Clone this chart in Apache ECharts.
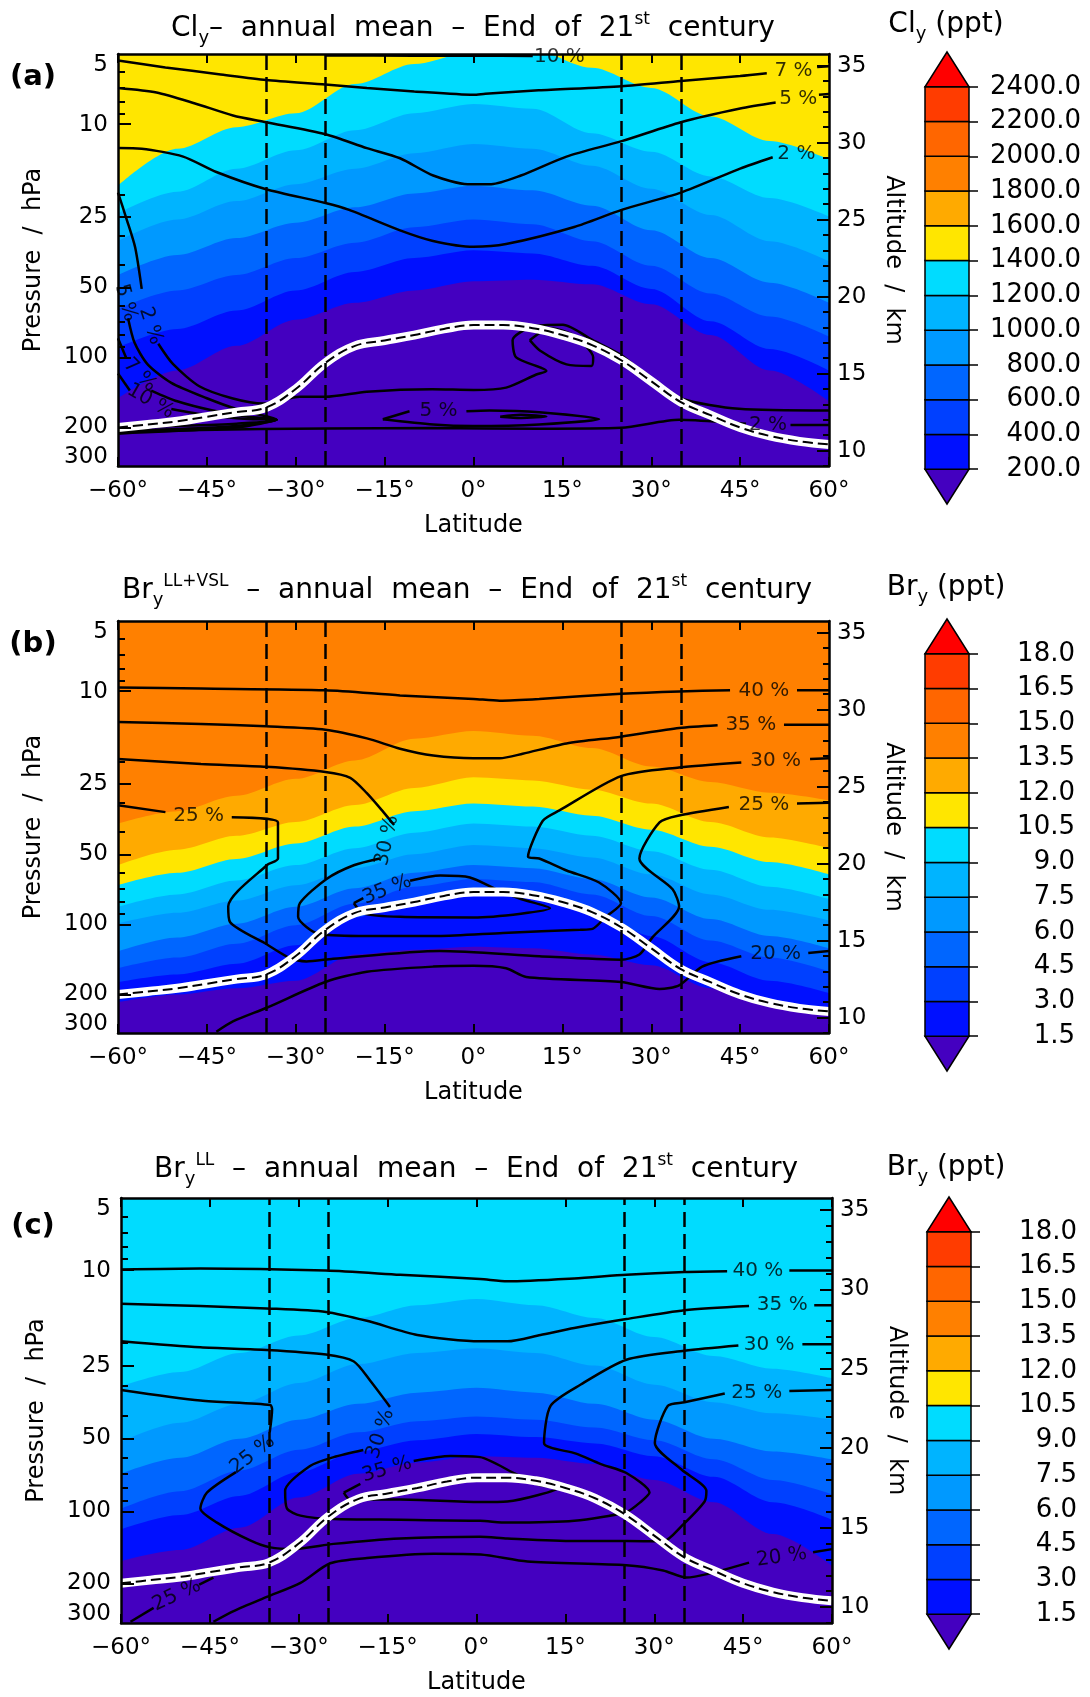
<!DOCTYPE html>
<html>
<head>
<meta charset="utf-8">
<title>Cly and Bry annual mean - End of 21st century</title>
<script src="https://cdn.jsdelivr.net/npm/echarts@6.0.0/dist/echarts.min.js"></script>
<style>
  html, body { margin: 0; padding: 0; background: #fff; }
  #chart { width: 1090px; height: 1697px; }
</style>
</head>
<body>
<div id="chart"></div>
<script>
// ---- data ----------------------------------------------------------------
// latitudes at which the filled-contour boundaries were read (deg)
const boundaryLat = [-60, -50, -40, -30, -20, -10, 0, 10, 20, 30, 40, 50, 60]

// (a) Cly, altitude (km) of each contour level
const clyLevels = [200, 400, 600, 800, 1000, 1200, 1400, 1600, 1800, 2000, 2200, 2400]
const cly200 = [13.4, 15.2, 16.8, 18.5, 19.6, 20.4, 21.0, 21.1, 20.8, 19.5, 17.5, 15.2, 13.2]
const cly400 = [16.7, 17.9, 19.1, 20.4, 21.6, 22.5, 23.0, 22.8, 22.0, 20.5, 18.4, 16.6, 15.2]
const cly600 = [19.2, 20.4, 21.4, 22.5, 23.5, 24.5, 25.0, 24.7, 23.6, 22.0, 20.2, 18.7, 17.4]
const cly800 = [21.4, 22.7, 23.8, 24.8, 25.8, 26.7, 27.2, 26.9, 25.9, 24.3, 22.5, 20.9, 19.6]
const cly1000 = [23.6, 25.0, 26.2, 27.3, 28.3, 29.3, 29.9, 29.6, 28.5, 27.0, 25.3, 23.6, 22.3]
const cly1200 = [25.4, 26.8, 28.3, 29.5, 30.8, 31.9, 32.5, 32.2, 30.6, 29.4, 27.8, 26.4, 25.2]
const cly1400 = [27.2, 29.6, 31.0, 31.9, 33.8, 35.1, 35.9, 36.0, 34.85, 33.55, 31.7, 30.1, 28.9]

// (b) Bry LL+VSL
const bryLevels = [1.5, 3.0, 4.5, 6.0, 7.5, 9.0, 10.5, 12.0, 13.5, 15.0, 16.5, 18.0]
const bryVsl1p5 = [11.0, 11.5, 11.9, 12.4, 14.1, 14.4, 14.6, 14.5, 14.1, 13.4, 11.9, 11.0, 10.6]
const bryVsl3 = [12.3, 12.8, 13.5, 14.7, 16.5, 17.7, 18.1, 17.9, 17.0, 15.3, 13.6, 12.4, 11.6]
const bryVsl4p5 = [13.2, 13.9, 14.8, 16.0, 17.4, 18.5, 19.0, 18.8, 18.0, 16.6, 15.0, 13.9, 13.0]
const bryVsl6 = [14.3, 15.2, 16.1, 17.2, 18.4, 19.4, 19.9, 19.7, 19.0, 17.8, 16.4, 15.3, 14.5]
const bryVsl7p5 = [16.1, 16.8, 17.6, 18.6, 19.7, 20.6, 21.2, 21.0, 20.4, 19.3, 18.0, 17.0, 16.3]
const bryVsl9 = [17.2, 18.0, 18.9, 19.9, 21.0, 22.0, 22.6, 22.4, 21.8, 20.8, 19.6, 18.5, 17.7]
const bryVsl10p5 = [18.6, 19.4, 20.3, 21.3, 22.4, 23.4, 23.9, 23.7, 23.1, 22.2, 21.1, 20.1, 19.3]
const bryVsl12 = [19.9, 20.9, 21.8, 22.7, 23.8, 24.9, 25.6, 25.4, 24.8, 23.9, 22.7, 21.7, 21.0]
const bryVsl13p5 = [22.6, 23.4, 24.4, 25.5, 26.7, 28.1, 28.6, 28.3, 27.5, 26.3, 25.3, 24.6, 24.1]

// (c) Bry LL
const bryLl1p5 = [12.9, 13.6, 15.0, 16.9, 18.4, 19.1, 19.5, 19.4, 19.0, 18.0, 16.6, 14.6, 12.6]
const bryLl3 = [14.9, 15.8, 17.0, 18.5, 19.8, 20.5, 20.9, 20.7, 20.3, 19.5, 18.2, 16.6, 15.5]
const bryLl4p5 = [16.2, 17.3, 18.6, 19.9, 21.0, 21.7, 22.0, 21.8, 21.3, 20.5, 19.3, 18.0, 17.1]
const bryLl6 = [18.4, 19.4, 20.6, 21.8, 22.8, 23.5, 23.8, 23.5, 22.8, 21.8, 20.6, 19.8, 19.3]
const bryLl7p5 = [20.4, 21.6, 22.8, 24.1, 25.3, 26.0, 26.3, 26.0, 25.2, 24.0, 22.9, 22.2, 21.8]
const bryLl9 = [23.9, 24.8, 26.0, 27.1, 28.2, 29.0, 29.4, 29.0, 28.2, 27.0, 25.8, 25.0, 24.4]

// tropopause (km)
const tropLat = [-60, -55, -50, -45, -40, -35, -30, -25, -20, -15, -10, -5, 0, 5, 10, 15, 20, 25, 30, 35, 40, 45, 50, 55, 60]
const tropAlt = [11.5, 11.7, 11.9, 12.2, 12.5, 12.8, 14.0, 15.7, 16.8, 17.15, 17.5, 17.9, 18.15, 18.15, 17.95, 17.5, 16.85, 15.85, 14.5, 13.15, 12.3, 11.5, 10.95, 10.6, 10.4]

// tropics / subtropics limits (dashed verticals)
const regionLat = [-35, -25, 25, 35]

// contour lines of the percentage: each is a list of [lat, km] segments
const clyC10 = [[[-25, 35.66], [-10, 35.64], [0, 35.64], [10, 35.62]]]
const clyC7 = [[[-60, 35.33], [-52, 34.88], [-43, 34.44], [-35, 34.06], [-25, 33.77], [-18, 33.54], [-10, 33.32], [0, 33.1], [2, 33.17], [11, 33.39], [25, 33.66], [35, 34.0], [45, 34.32], [49.5, 34.5]], [[58, 34.9], [60, 34.95]]]
const clyC5 = [[[-60, 33.54], [-53.5, 33.25], [-47, 32.54], [-40.6, 31.76], [-35, 31.32], [-25, 30.54], [-18, 29.64], [-12.4, 28.98], [-6.8, 27.86], [-1, 27.3], [3, 27.3], [8, 27.86], [15.7, 29.09], [25, 30.09], [35, 31.32], [45, 32.21], [51, 32.6]], [[58.3, 33.1], [60, 33.15]]]
const clyC2 = [[[-60, 29.64], [-56, 29.6], [-49, 29.09], [-43.4, 28.09], [-35, 26.97], [-25, 26.08], [-21, 25.63], [-12.4, 24.3], [-7, 23.63], [0, 23.23], [5.5, 23.41], [17, 24.52], [25, 25.63], [35, 26.75], [45, 28.31], [50.5, 29.05]]]
const clyC2Low = [[[-60, 26.75], [-58.5, 24.97], [-57.1, 23.18], [-56, 20.5]], [[-53.2, 16.94], [-50.7, 15.61], [-46.2, 14.16], [-40.6, 13.38], [-35.5, 13.05], [-29.3, 13.49], [-25, 13.49], [-18, 13.82], [-7, 13.98], [0, 13.94], [5.5, 14.09], [10.6, 14.94], [12.3, 15.16], [7.2, 16.05], [6.6, 17.17], [10, 18.06], [15.1, 18.17], [20.1, 17.17], [24.9, 16.2], [29.7, 14.72], [35, 13.38], [44.8, 12.71], [60, 12.6]]]
const clyW5 = [[[-58.3, 18.6], [-57.2, 17.0], [-55, 15.6], [-51, 14.4], [-45, 13.4], [-40, 12.7], [-33.2, 12.0], [-40, 11.75], [-50, 11.6], [-60, 11.5]]]
const clyW7 = [[[-60, 17.3], [-58.6, 16.0]], [[-54.4, 13.9], [-50, 13.2], [-44, 12.6], [-38, 12.2], [-33.2, 12.0], [-40, 11.6], [-50, 11.4], [-60, 11.3]]]
const clyW10 = [[[-60, 15.0], [-58, 13.9]], [[-51, 12.7], [-45, 12.3], [-38, 12.05], [-33.2, 12.0], [-40, 11.5], [-50, 11.3], [-60, 11.2]]]
const clyW5Mid = [[[-15.3, 12.04], [-10.8, 12.55]], [[-1.2, 12.55], [2.7, 12.6], [11.1, 12.49], [21.2, 12.04], [11.1, 11.7], [-0.1, 11.6], [-6.8, 11.7], [-15.3, 12.04]]]
const clyLoopLow = [[[4.5, 12.2], [8, 12.32], [12.3, 12.22], [8, 12.12], [4.5, 12.2]]]
const clyLoopTrop = [[[9.5, 17.17], [12.9, 17.95], [16.8, 17.5], [20.2, 16.05], [19.9, 15.5], [15.7, 15.6], [11.2, 16.5], [9.5, 17.17]]]
const clyC2Bottom = [[[-60, 11.1], [-46.2, 11.33], [-25, 11.44], [-6.8, 11.46], [11.1, 11.42], [24.9, 11.48], [34.7, 12.0], [44.8, 11.78], [46, 11.75]], [[53.5, 11.66], [60, 11.66]]]
// [text, lat, km, rotation]
const clyLabels = [
  ['10 %', 14.5, 35.6, 0], ['7 %', 54, 34.68, 0], ['5 %', 54.8, 32.85, 0], ['2 %', 54.5, 29.25, 0],
  ['5 %', -58.7, 19.6, -75], ['2 %', -54.5, 18.1, -72], ['7 %', -56.3, 14.9, -45], ['10 %', -54.5, 13.2, -30],
  ['5 %', -5.9, 12.6, 0], ['2 %', 49.7, 11.7, 0]
]

const bryVslC40 = [[[-60, 31.43], [-46, 31.36], [-25, 31.25], [-12.4, 30.92], [0, 30.69], [4.4, 30.58], [11.1, 30.69], [24.9, 31.03], [34.7, 31.18], [43.3, 31.25]], [[54.6, 31.25], [60, 31.25]]]
const bryVslC35 = [[[-60, 29.2], [-46, 29.07], [-35, 28.91], [-25, 28.69], [-18, 28.13], [-12.4, 27.46], [-6.8, 27.02], [0, 26.84], [4.4, 26.84], [8.3, 27.13], [15.7, 27.8], [24.9, 28.24], [34.7, 28.8], [41.2, 28.98]], [[52.4, 29.02], [60, 29.02]]]
const bryVslC30 = [[[-60, 26.79], [-46, 26.46], [-35, 26.28], [-25, 25.95], [-20.8, 25.57], [-18, 24.57], [-15.2, 23.34], [-13.4, 22.5]], [[-15.8, 20.33], [-20.2, 19.89], [-24.8, 19.0], [-29.3, 17.43], [-29.6, 16.54], [-28.2, 15.88], [-26, 15.43], [-18, 15.3], [-6, 15.3], [5, 15.5], [18, 15.7], [20.1, 15.76], [22.3, 16.54], [24.9, 17.43], [21.2, 18.77], [15.7, 19.55], [11.1, 20.33], [9.2, 20.44], [11.7, 22.78], [14.5, 23.45], [24.9, 25.68], [34.7, 26.24], [45.2, 26.57]], [[56.8, 26.79], [60, 26.84]]]
const bryVslC25 = [[[-60, 23.78], [-52, 23.34]], [[-40.8, 23.0], [-33, 22.67], [-33, 20.33], [-34.9, 19.89], [-41.4, 17.21], [-41.1, 16.21], [-34.9, 14.76], [-31, 13.87], [-28.2, 13.65], [-23.7, 13.82], [-5.7, 14.32], [11.1, 13.98], [24.9, 13.76], [28, 14.09], [30.2, 15.21], [34.7, 17.21], [33.6, 18.33], [28, 20.33], [31.4, 22.67], [34.7, 23.12], [43.1, 23.67]], [[54.6, 23.9], [60, 23.95]]]
const bryVslC20 = [[[-43.4, 9.08], [-40.6, 9.75], [-34.9, 10.64], [-25, 12.31], [-18, 12.98], [-6.8, 13.31], [0, 13.36], [5.5, 13.2], [8.9, 12.64], [24.9, 12.31], [31.4, 11.86], [34.7, 12.09], [38.6, 13.31], [45.2, 13.98]], [[56.5, 14.2], [60, 14.32]]]
const bryVslC35Loop = [[[-20.2, 17.43], [-18.6, 17.75]], [[-10.7, 18.88], [-5.6, 19.22], [-0.6, 19.1], [4, 18.3], [8, 17.7], [12.9, 17.1], [8, 16.75], [0, 16.5], [-12.4, 16.54], [-18.6, 16.77], [-20.2, 17.43]]]
const bryVslLabels = [
  ['40 %', 49, 31.25, 0], ['35 %', 46.8, 29.0, 0], ['30 %', 51, 26.65, 0], ['25 %', 49, 23.8, 0], ['20 %', 51, 14.12, 0],
  ['25 %', -46.4, 23.12, 0], ['30 %', -14.6, 21.5, 78], ['35 %', -14.6, 18.3, 22]
]

const bryLlC40 = [[[-60, 31.25], [-46.6, 31.32], [-25.4, 31.18], [-12.9, 30.92], [0.6, 30.65], [5.2, 30.51], [16.5, 30.69], [25.3, 30.92], [35.1, 31.09], [42.3, 31.14]], [[52.8, 31.18], [60, 31.18]]]
const bryLlC35 = [[[-60, 29.09], [-46.6, 28.95], [-35.4, 28.8], [-25.4, 28.58], [-18.5, 28.02], [-10, 27.13], [0.6, 26.73], [5.2, 26.73], [10.8, 27.13], [16.5, 27.57], [25.3, 28.13], [35.1, 28.69], [46, 28.95]], [[57, 29.0], [60, 29.0]]]
const bryLlC30 = [[[-60, 26.73], [-46.6, 26.35], [-35.4, 26.19], [-25.4, 25.9], [-20.7, 25.46], [-17.9, 24.23], [-14.6, 22.6]], [[-19.1, 19.89], [-24.1, 19.44], [-28.1, 18.88], [-32.3, 17.32], [-32, 16.21], [-29.7, 15.76], [-24.1, 15.54], [-12.9, 15.5], [0.6, 15.43], [5.2, 15.32], [16.5, 15.43], [25.3, 15.99], [27.8, 16.65], [29.2, 17.21], [25.3, 18.44], [21, 19.0], [16.8, 19.66], [11.4, 20.33], [12.5, 22.67], [17.6, 24.01], [25.3, 25.57], [35.1, 26.13], [44.2, 26.46]], [[55, 26.55], [60, 26.55]]]
const bryLlC25 = [[[-60, 23.67], [-46.6, 23.0], [-34.8, 22.72], [-34.5, 22.45], [-34.9, 21.0]], [[-40.6, 18.5], [-45.5, 17.21], [-46.6, 16.21], [-43.8, 15.32], [-38.2, 14.2], [-34.8, 13.76], [-30.9, 13.65], [-24.1, 13.98], [-12.9, 14.32], [0.6, 14.43], [5.2, 14.32], [16.5, 14.16], [25.3, 14.16], [31.5, 14.14], [34.6, 15.1], [38.5, 16.65], [38.8, 17.32], [34.6, 18.66], [30.1, 20.33], [32.3, 22.67], [35.1, 22.89], [41.9, 23.45]], [[52.8, 23.61], [60, 23.67]]]
const bryLlC20 = [[[-44.4, 9.08], [-41, 9.75], [-35.4, 10.64], [-29.7, 11.53], [-24.7, 12.76], [-18.5, 13.09], [-7.2, 13.36], [0.7, 13.31], [8.6, 12.87], [25.3, 12.64], [31.5, 12.31], [35.4, 11.86], [39.1, 12.09], [46, 12.8]], [[56.8, 13.45], [60, 13.65]]]
const bryLlC25Low = [[[-58.4, 9.08], [-54.5, 9.95]], [[-46.8, 11.42], [-44.4, 11.86]]]
const bryLlC35Loop = [[[-22.4, 17.21], [-19.6, 17.75]], [[-10.6, 19.2], [-4.4, 19.51], [0.6, 19.44], [6.3, 18.44], [10.8, 17.66], [14, 17.55], [5.2, 16.65], [0.6, 16.61], [-12.9, 16.77], [-21.3, 16.77], [-22.4, 17.21]]]
const bryLlLabels = [
  ['40 %', 47.5, 31.14, 0], ['35 %', 51.6, 29.0, 0], ['30 %', 49.4, 26.5, 0], ['25 %', 47.3, 23.52, 0], ['20 %', 51.5, 13.15, 8],
  ['30 %', -16.2, 20.9, 72], ['25 %', -37.8, 19.6, 38], ['35 %', -15.1, 18.66, 16], ['25 %', -50.6, 10.75, 25]
]

// axis ticks
const altTickLabels = [10, 15, 20, 25, 30, 35]
const pressureTickLabels = ['5', '10', '25', '50', '100', '200', '300']
const pressureLabelAlt = [35.05, 31.15, 25.19, 20.64, 16.07, 11.5, 9.55]
const pressureMajor = [10, 25, 50, 100, 200]
const pressureMinor = [6, 7, 8, 9, 20, 30, 40, 60, 70, 80, 90]

// ---- styles --------------------------------------------------------------
const FONT = 'DejaVu Sans'
const bandColors = ['#4400c0', '#0010ff', '#0040ff', '#0066ff', '#0099ff', '#00b4ff', '#00dcff',
  '#ffe600', '#ffaa00', '#ff8000', '#ff6600', '#ff3c00', '#ff0000']
const ALT_MIN = 9.0
const ALT_MAX = 35.75

function pressureToAlt(p) {
  return 16.03 + 6.59 * Math.log(100 / p)
}

function fmtLat(v) {
  return (v < 0 ? '\u2212' + (-v) : String(v)) + '°'
}

const titleRich = {
  n: { fontSize: 28, fontFamily: FONT, color: '#000', lineHeight: 36 },
  b: { fontSize: 18, fontFamily: FONT, color: '#000', lineHeight: 18, verticalAlign: 'bottom' },
  p: { fontSize: 17, fontFamily: FONT, color: '#000', lineHeight: 17, verticalAlign: 'top' }
}

const panels = [
  {
    left: 118, top: 54, height: 412, barLeft: 925, barTop: 52, barMargin: 112,
    titleX: 473, titleY: 29, barTitleY: 25, letterY: 77, letter: '(a)',
    title: '{n|Cl}{b|y}{n|–  annual  mean  –  End  of  21}{p|st}{n|  century}',
    barTitle: '{n|Cl}{b|y}{n| (ppt)}',
    levels: clyLevels,
    bounds: [cly200, cly400, cly600, cly800, cly1000, cly1200, cly1400],
    contours: [clyC10, clyC7, clyC5, clyC2, clyC2Low, clyW5, clyW7, clyW10, clyW5Mid, clyLoopLow, clyLoopTrop, clyC2Bottom],
    labels: clyLabels
  },
  {
    left: 118, top: 621, height: 412, barLeft: 925, barTop: 619, barMargin: 106,
    titleX: 467, titleY: 591, barTitleY: 588, letterY: 644, letter: '(b)',
    title: '{n|Br}{b|y}{p|LL+VSL}{n|  –  annual  mean  –  End  of  21}{p|st}{n|  century}',
    barTitle: '{n|Br}{b|y}{n| (ppt)}',
    levels: bryLevels,
    bounds: [bryVsl1p5, bryVsl3, bryVsl4p5, bryVsl6, bryVsl7p5, bryVsl9, bryVsl10p5, bryVsl12, bryVsl13p5],
    contours: [bryVslC40, bryVslC35, bryVslC30, bryVslC25, bryVslC20, bryVslC35Loop],
    labels: bryVslLabels
  },
  {
    left: 121, top: 1198, height: 425, barLeft: 927, barTop: 1197, barMargin: 106,
    titleX: 476, titleY: 1170, barTitleY: 1168, letterY: 1226, letter: '(c)',
    title: '{n|Br}{b|y}{p|LL}{n|  –  annual  mean  –  End  of  21}{p|st}{n|  century}',
    barTitle: '{n|Br}{b|y}{n| (ppt)}',
    levels: bryLevels,
    bounds: [bryLl1p5, bryLl3, bryLl4p5, bryLl6, bryLl7p5, bryLl9],
    contours: [bryLlC40, bryLlC35, bryLlC30, bryLlC25, bryLlC20, bryLlC25Low, bryLlC35Loop],
    labels: bryLlLabels
  }
]

// ---- build ---------------------------------------------------------------
const grids = []
const xAxes = []
const yAxes = []
const series = []
const graphics = []

const frameLine = { show: true, onZero: false, lineStyle: { color: '#000', width: 2.5 } }
const tickStyle = { color: '#000', width: 2 }
const nameStyle = { fontSize: 24, color: '#000', fontFamily: FONT }

function renderColorBox(params, api) {
  const lo = api.value(0)
  const hi = api.value(1)
  const kind = api.value(2)
  const a = api.coord([0, lo])
  const b = api.coord([1, hi])
  const style = { fill: bandColors[api.value(3)], stroke: '#000', lineWidth: 1.5 }
  if (kind === 0) {
    return { type: 'rect', shape: { x: a[0], y: b[1], width: b[0] - a[0], height: a[1] - b[1] }, style }
  }
  const mid = (a[0] + b[0]) / 2
  const pts = kind === 1
    ? [[a[0], a[1]], [b[0], a[1]], [mid, b[1]]]
    : [[a[0], b[1]], [b[0], b[1]], [mid, a[1]]]
  return { type: 'polygon', shape: { points: pts }, style }
}

panels.forEach((p, k) => {
  const gPlot = 2 * k
  const gBar = 2 * k + 1
  const xi = 3 * k
  const yi = 5 * k

  grids.push({ left: p.left, top: p.top, width: 711, height: p.height, show: true,
    backgroundColor: bandColors[0], borderWidth: 0, outerBoundsMode: 'none' })
  grids.push({ left: p.barLeft, top: p.barTop, width: 44, height: 452, outerBoundsMode: 'none' })

  // x axes: latitude bottom, ticks only on top, hidden one for the colour bar
  xAxes.push({
    gridIndex: gPlot, type: 'value', min: -60, max: 60, interval: 15, position: 'bottom', z: 10,
    axisLine: frameLine, axisTick: { inside: true, length: 9, lineStyle: tickStyle },
    axisLabel: { fontSize: 23, color: '#000', margin: 14, fontFamily: FONT, formatter: fmtLat },
    splitLine: { show: false },
    name: 'Latitude', nameLocation: 'middle', nameGap: 48, nameTextStyle: nameStyle
  })
  xAxes.push({
    gridIndex: gPlot, type: 'value', min: -60, max: 60, interval: 15, position: 'top', z: 10,
    axisLine: frameLine, axisTick: { inside: true, length: 9, lineStyle: tickStyle },
    axisLabel: { show: false }, splitLine: { show: false }
  })
  xAxes.push({ gridIndex: gBar, type: 'value', min: 0, max: 1, show: false })

  // y axes: altitude (right, used by the series), its minor ticks, pressure (left), its minor ticks, colour bar
  const altMinor = []
  for (let v = 9; v <= 35; v++) if (v % 5 !== 0) altMinor.push(v)
  yAxes.push({
    gridIndex: gPlot, type: 'value', min: ALT_MIN, max: ALT_MAX, position: 'right', z: 10,
    axisLine: frameLine,
    axisTick: { inside: true, length: 12, customValues: altTickLabels, lineStyle: tickStyle },
    axisLabel: { customValues: altTickLabels, fontSize: 23, color: '#000', margin: 8, fontFamily: FONT },
    splitLine: { show: false },
    name: 'Altitude  /  km', nameLocation: 'middle', nameRotate: -90, nameGap: 52, nameTextStyle: nameStyle
  })
  yAxes.push({
    gridIndex: gPlot, type: 'value', min: ALT_MIN, max: ALT_MAX, position: 'right', z: 10,
    axisLine: { show: false, onZero: false },
    axisTick: { inside: true, length: 6, customValues: altMinor, lineStyle: tickStyle },
    axisLabel: { show: false }, splitLine: { show: false }
  })
  yAxes.push({
    gridIndex: gPlot, type: 'value', min: ALT_MIN, max: ALT_MAX, position: 'left', z: 10,
    axisLine: frameLine,
    axisTick: { inside: true, length: 13, customValues: pressureMajor.map(pressureToAlt), lineStyle: tickStyle },
    axisLabel: {
      customValues: pressureLabelAlt, fontSize: 23, color: '#000', margin: 10, fontFamily: FONT,
      formatter: v => {
        let best = 0
        pressureLabelAlt.forEach((a, i) => { if (Math.abs(a - v) < Math.abs(pressureLabelAlt[best] - v)) best = i })
        return pressureTickLabels[best]
      }
    },
    splitLine: { show: false },
    name: 'Pressure  /  hPa', nameLocation: 'middle', nameRotate: 90, nameGap: 72, nameTextStyle: nameStyle
  })
  yAxes.push({
    gridIndex: gPlot, type: 'value', min: ALT_MIN, max: ALT_MAX, position: 'left', z: 10,
    axisLine: { show: false, onZero: false },
    axisTick: { inside: true, length: 7, customValues: pressureMinor.map(pressureToAlt), lineStyle: tickStyle },
    axisLabel: { show: false }, splitLine: { show: false }
  })
  const lv = p.levels
  const step = lv[1] - lv[0]
  yAxes.push({
    gridIndex: gBar, type: 'value', min: lv[0] - step, max: lv[lv.length - 1] + step, position: 'right',
    axisLine: { show: false, onZero: false },
    axisTick: { inside: false, length: 9, customValues: lv, lineStyle: { color: '#000', width: 1.5 } },
    axisLabel: { customValues: lv, formatter: v => v.toFixed(1), align: 'right', margin: p.barMargin,
      fontSize: 26, color: '#000', fontFamily: FONT },
    splitLine: { show: false }
  })

  // filled contours: each boundary paints the band above it up to the top
  p.bounds.forEach((arr, i) => {
    series.push({
      type: 'line', xAxisIndex: xi, yAxisIndex: yi, silent: true, z: 1,
      data: boundaryLat.map((l, j) => [l, arr[j]]),
      symbol: 'none', smooth: 0.3, smoothMonotone: 'x',
      lineStyle: { width: 0, opacity: 0 },
      areaStyle: { color: bandColors[i + 1], opacity: 1, origin: 'end' }
    })
  })

  // percentage contour lines
  p.contours.forEach(c => c.forEach(seg => {
    series.push({
      type: 'line', xAxisIndex: xi, yAxisIndex: yi, silent: true, z: 3,
      data: seg, symbol: 'none', smooth: 0.25,
      lineStyle: { color: '#000', width: 2.5 }
    })
  }))

  // tropopause: white band with a dashed black core, plus the dashed latitude limits
  const trop = tropLat.map((l, j) => [l, tropAlt[j]])
  series.push({
    type: 'line', xAxisIndex: xi, yAxisIndex: yi, silent: true, z: 4,
    data: trop, symbol: 'none', smooth: 0.4, lineStyle: { color: '#fff', width: 9 }
  })
  series.push({
    type: 'line', xAxisIndex: xi, yAxisIndex: yi, silent: true, z: 5,
    data: trop, symbol: 'none', smooth: 0.4, lineStyle: { color: '#000', width: 2, type: [10, 5] },
    markLine: {
      silent: true, symbol: ['none', 'none'], label: { show: false },
      lineStyle: { color: '#000', width: 2.5, type: [15, 7] },
      data: regionLat.map(v => ({ xAxis: v }))
    }
  })

  // contour labels
  series.push({
    type: 'scatter', xAxisIndex: xi, yAxisIndex: yi, silent: true, z: 6, clip: false,
    symbolSize: 2, itemStyle: { color: 'rgba(0,0,0,0)' },
    data: p.labels.map(([t, la, al, rot]) => ({ name: t, value: [la, al], label: { rotate: rot } })),
    label: { show: true, position: 'inside', formatter: '{b}', color: '#000', fontSize: 20, fontFamily: FONT }
  })

  // colour bar
  const barData = [[lv[0] - step, lv[0], 2, 0]]
  for (let i = 0; i < lv.length - 1; i++) barData.push([lv[i], lv[i + 1], 0, i + 1])
  barData.push([lv[lv.length - 1], lv[lv.length - 1] + step, 1, 12])
  series.push({
    type: 'custom', xAxisIndex: xi + 2, yAxisIndex: yi + 4, silent: true, clip: false,
    data: barData, renderItem: renderColorBox
  })

  // titles and panel letter
  graphics.push({ type: 'text', x: p.titleX, y: p.titleY, silent: true,
    style: { text: p.title, rich: titleRich, align: 'center', verticalAlign: 'middle' } })
  graphics.push({ type: 'text', x: 946, y: p.barTitleY, silent: true,
    style: { text: p.barTitle, rich: titleRich, align: 'center', verticalAlign: 'middle' } })
  graphics.push({ type: 'text', x: 33, y: p.letterY, silent: true,
    style: { text: p.letter, font: 'bold 29px "DejaVu Sans"', fill: '#000', align: 'center', verticalAlign: 'middle' } })
})

const chart = echarts.init(document.getElementById('chart'))
chart.setOption({
  animation: false,
  backgroundColor: '#fff',
  textStyle: { fontFamily: FONT },
  grid: grids,
  xAxis: xAxes,
  yAxis: yAxes,
  series,
  graphic: graphics
})
</script>
</body>
</html>
